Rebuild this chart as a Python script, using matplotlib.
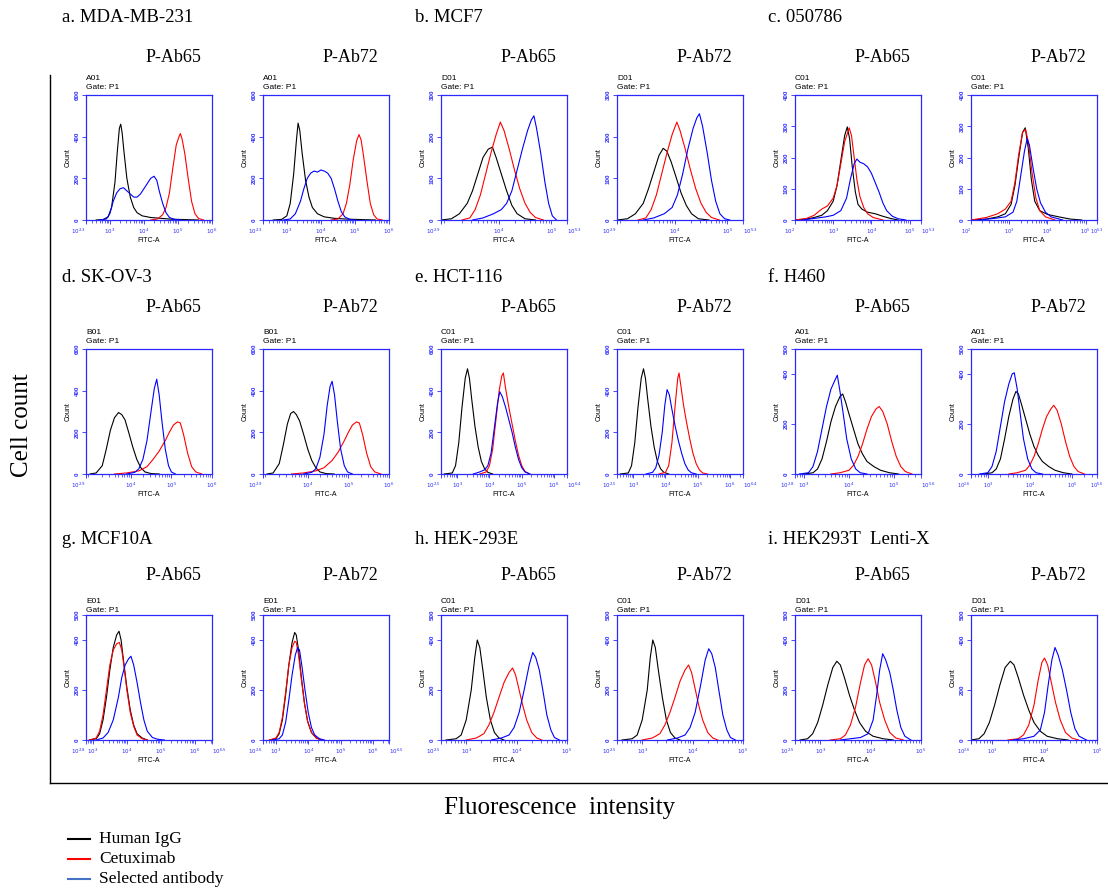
import matplotlib
matplotlib.use("Agg")
import matplotlib.pyplot as plt
from matplotlib.lines import Line2D
from matplotlib.ticker import LogLocator, NullFormatter, FixedLocator, FixedFormatter

# ---------------- data: (log10 FITC-A, count) ----------------
# a. MDA-MB-231
a65_igg = [(2.6,0),(2.8,2),(2.95,15),(3.05,60),(3.15,180),(3.22,330),(3.28,440),(3.32,460),(3.36,420),(3.42,320),(3.5,200),(3.6,110),(3.7,60),(3.8,35),(3.95,20),(4.2,12),(4.5,8),(4.8,4),(5.2,2),(5.6,0)]
a65_cet = [(4.2,0),(4.4,5),(4.55,25),(4.65,60),(4.75,130),(4.85,250),(4.95,360),(5.02,395),(5.07,415),(5.12,390),(5.2,320),(5.3,200),(5.4,90),(5.5,30),(5.6,8),(5.75,0)]
a65_sel = [(2.7,0),(2.9,5),(3.0,30),(3.1,90),(3.2,130),(3.3,150),(3.4,155),(3.5,140),(3.6,125),(3.7,110),(3.8,110),(3.9,125),(4.0,150),(4.1,175),(4.2,200),(4.3,210),(4.38,190),(4.45,140),(4.55,80),(4.65,35),(4.75,12),(4.9,3),(5.1,0)]
a72_igg = [(2.6,0),(2.85,3),(3.0,20),(3.1,80),(3.2,220),(3.28,380),(3.33,465),(3.38,430),(3.45,320),(3.55,190),(3.65,110),(3.75,60),(3.9,30),(4.1,15),(4.4,8),(4.8,4),(5.2,2),(5.6,0)]
a72_cet = [(4.3,0),(4.5,5),(4.65,30),(4.75,80),(4.85,170),(4.95,290),(5.05,380),(5.12,410),(5.18,385),(5.25,310),(5.35,190),(5.45,80),(5.55,25),(5.65,5),(5.8,0)]
a72_sel = [(2.9,0),(3.1,5),(3.25,30),(3.4,90),(3.5,150),(3.6,200),(3.7,225),(3.8,235),(3.9,230),(4.0,240),(4.1,235),(4.2,225),(4.3,200),(4.4,150),(4.5,90),(4.6,40),(4.7,15),(4.85,3),(5.0,0)]
# b. MCF7
b65_igg = [(2.9,0),(3.1,3),(3.25,15),(3.4,40),(3.5,70),(3.6,110),(3.7,150),(3.8,170),(3.88,175),(3.95,150),(4.05,110),(4.15,70),(4.25,35),(4.35,15),(4.5,3),(4.7,0)]
b65_cet = [(3.3,0),(3.45,5),(3.55,25),(3.65,60),(3.75,110),(3.85,160),(3.95,205),(4.03,235),(4.1,215),(4.2,170),(4.3,120),(4.4,75),(4.5,40),(4.6,18),(4.7,6),(4.85,0)]
b65_sel = [(3.5,0),(3.7,5),(3.9,15),(4.05,25),(4.15,40),(4.25,70),(4.35,120),(4.45,170),(4.55,215),(4.62,240),(4.67,250),(4.72,220),(4.8,160),(4.88,90),(4.95,40),(5.02,10),(5.1,0)]
b72_igg = [(2.9,0),(3.1,3),(3.25,15),(3.4,40),(3.5,75),(3.6,115),(3.7,155),(3.78,172),(3.85,165),(3.93,140),(4.02,105),(4.12,65),(4.22,35),(4.32,15),(4.45,3),(4.65,0)]
b72_cet = [(3.3,0),(3.45,5),(3.55,25),(3.65,60),(3.75,110),(3.85,160),(3.95,205),(4.04,235),(4.1,215),(4.2,170),(4.3,120),(4.4,75),(4.5,40),(4.6,18),(4.7,6),(4.85,0)]
b72_sel = [(3.4,0),(3.6,5),(3.8,15),(3.95,30),(4.05,60),(4.15,110),(4.25,170),(4.35,220),(4.42,245),(4.47,255),(4.53,225),(4.62,160),(4.7,95),(4.78,45),(4.86,15),(4.95,3),(5.05,0)]
# c. 050786
c65_igg = [(2.0,0),(2.3,3),(2.5,8),(2.7,15),(2.85,30),(3.0,60),(3.1,110),(3.2,190),(3.3,270),(3.37,298),(3.43,260),(3.5,170),(3.58,90),(3.65,50),(3.75,35),(3.9,25),(4.1,20),(4.3,12),(4.5,5),(4.7,0)]
c65_cet = [(2.0,0),(2.3,5),(2.5,15),(2.7,35),(2.85,45),(3.0,70),(3.1,110),(3.2,180),(3.3,250),(3.42,295),(3.48,270),(3.55,200),(3.62,130),(3.7,75),(3.8,40),(3.9,20),(4.05,8),(4.3,0)]
c65_sel = [(2.2,0),(2.5,5),(2.8,10),(3.0,15),(3.2,30),(3.35,70),(3.45,130),(3.55,180),(3.62,195),(3.7,185),(3.8,180),(3.9,170),(4.0,150),(4.1,120),(4.2,90),(4.3,55),(4.4,30),(4.55,12),(4.7,4),(4.9,0)]
c72_igg = [(2.0,0),(2.4,3),(2.7,10),(2.9,20),(3.05,50),(3.15,110),(3.25,200),(3.35,280),(3.42,295),(3.5,230),(3.58,130),(3.67,60),(3.8,30),(4.0,18),(4.3,10),(4.6,3),(4.9,0)]
c72_cet = [(2.0,0),(2.4,8),(2.7,20),(2.9,35),(3.05,60),(3.15,120),(3.25,210),(3.35,280),(3.43,290),(3.5,250),(3.6,150),(3.7,70),(3.8,30),(3.95,10),(4.2,0)]
c72_sel = [(2.2,0),(2.6,5),(2.9,10),(3.1,25),(3.2,60),(3.3,140),(3.4,220),(3.47,260),(3.53,240),(3.62,170),(3.72,100),(3.82,55),(3.95,25),(4.1,10),(4.4,0)]
# d. SK-OV-3
d65_igg = [(3.0,0),(3.15,5),(3.3,40),(3.4,120),(3.5,210),(3.6,270),(3.7,295),(3.78,285),(3.86,260),(3.95,200),(4.05,130),(4.15,70),(4.25,30),(4.35,10),(4.5,2),(4.7,0)]
d65_cet = [(3.6,0),(3.9,5),(4.2,15),(4.4,35),(4.55,70),(4.7,110),(4.85,160),(4.95,200),(5.05,235),(5.15,250),(5.22,245),(5.3,190),(5.4,100),(5.5,35),(5.6,10),(5.75,0)]
d65_sel = [(3.9,0),(4.1,8),(4.2,25),(4.3,70),(4.4,160),(4.5,300),(4.58,410),(4.64,455),(4.7,380),(4.77,250),(4.85,120),(4.93,40),(5.0,10),(5.1,0)]
d72_igg = [(3.0,0),(3.15,5),(3.3,50),(3.4,140),(3.5,240),(3.58,290),(3.65,300),(3.72,285),(3.8,255),(3.9,190),(4.0,120),(4.1,65),(4.2,30),(4.3,10),(4.45,2),(4.65,0)]
d72_cet = [(3.6,0),(3.9,5),(4.2,15),(4.4,30),(4.6,65),(4.75,105),(4.9,160),(5.0,200),(5.1,235),(5.2,250),(5.27,245),(5.35,190),(5.45,100),(5.55,35),(5.65,10),(5.8,0)]
d72_sel = [(3.9,0),(4.1,8),(4.2,25),(4.3,80),(4.4,190),(4.48,330),(4.55,420),(4.6,445),(4.66,380),(4.73,250),(4.81,120),(4.9,40),(4.98,10),(5.1,0)]
# e. HCT-116
e65_igg = [(2.6,0),(2.85,5),(2.95,40),(3.05,150),(3.15,320),(3.25,460),(3.32,505),(3.38,460),(3.45,360),(3.55,230),(3.65,130),(3.75,60),(3.85,25),(3.95,8),(4.1,0)]
e65_cet = [(3.7,0),(3.9,10),(4.0,40),(4.1,120),(4.2,260),(4.3,400),(4.38,470),(4.43,485),(4.5,410),(4.6,320),(4.7,240),(4.8,160),(4.9,90),(5.0,40),(5.1,12),(5.25,0)]
e65_sel = [(3.5,0),(3.7,10),(3.85,20),(3.95,40),(4.05,100),(4.15,220),(4.25,340),(4.32,395),(4.4,370),(4.5,320),(4.6,260),(4.7,200),(4.8,130),(4.9,70),(5.0,30),(5.1,10),(5.25,0)]
e72_igg = [(2.6,0),(2.85,5),(2.95,40),(3.05,150),(3.15,320),(3.25,460),(3.32,505),(3.38,460),(3.45,360),(3.55,230),(3.65,130),(3.75,60),(3.85,25),(3.95,8),(4.1,0)]
e72_cet = [(3.8,0),(4.0,8),(4.1,40),(4.2,150),(4.3,330),(4.38,460),(4.42,485),(4.48,420),(4.56,330),(4.65,250),(4.75,170),(4.85,100),(4.95,50),(5.05,20),(5.15,5),(5.3,0)]
e72_sel = [(3.4,0),(3.6,8),(3.7,30),(3.8,90),(3.9,200),(3.98,330),(4.05,405),(4.12,380),(4.2,310),(4.3,230),(4.4,160),(4.5,100),(4.6,50),(4.7,20),(4.8,6),(4.95,0)]
# f. H460
f65_igg = [(3.0,0),(3.2,5),(3.3,20),(3.4,60),(3.5,130),(3.6,210),(3.7,270),(3.8,310),(3.86,320),(3.92,290),(4.0,240),(4.1,180),(4.2,120),(4.3,80),(4.4,50),(4.55,30),(4.7,15),(4.9,5),(5.1,0)]
f65_cet = [(3.6,0),(3.8,5),(4.0,15),(4.1,35),(4.2,70),(4.3,120),(4.4,180),(4.5,230),(4.6,260),(4.67,270),(4.75,250),(4.85,200),(4.95,130),(5.05,70),(5.15,30),(5.25,10),(5.4,0)]
f65_sel = [(2.9,0),(3.1,5),(3.2,30),(3.3,90),(3.4,180),(3.5,270),(3.6,340),(3.7,380),(3.74,395),(3.8,330),(3.88,230),(3.95,140),(4.05,60),(4.15,20),(4.25,5),(4.4,0)]
f72_igg = [(2.9,0),(3.1,5),(3.2,20),(3.3,60),(3.4,140),(3.5,230),(3.6,300),(3.67,330),(3.73,320),(3.8,280),(3.9,220),(4.0,160),(4.1,110),(4.2,75),(4.3,50),(4.45,30),(4.6,15),(4.8,5),(5.0,0)]
f72_cet = [(3.5,0),(3.7,5),(3.9,15),(4.0,35),(4.1,70),(4.2,120),(4.3,180),(4.4,230),(4.5,260),(4.57,275),(4.65,255),(4.75,200),(4.85,130),(4.95,70),(5.05,30),(5.15,10),(5.3,0)]
f72_sel = [(2.8,0),(3.0,5),(3.1,30),(3.2,90),(3.3,190),(3.4,290),(3.5,360),(3.58,400),(3.63,405),(3.7,340),(3.78,230),(3.85,140),(3.95,60),(4.05,20),(4.15,5),(4.3,0)]
# g. MCF10A
g65_igg = [(2.9,0),(3.1,5),(3.2,25),(3.3,80),(3.4,170),(3.5,280),(3.6,370),(3.7,420),(3.77,435),(3.83,400),(3.9,320),(4.0,210),(4.1,120),(4.2,60),(4.3,25),(4.45,8),(4.6,0)]
g65_cet = [(2.9,0),(3.1,8),(3.2,35),(3.3,100),(3.4,200),(3.5,300),(3.6,360),(3.7,385),(3.78,390),(3.85,360),(3.92,290),(4.0,200),(4.1,110),(4.2,55),(4.3,20),(4.45,5),(4.6,0)]
g65_sel = [(3.1,0),(3.3,8),(3.45,30),(3.6,80),(3.75,170),(3.85,250),(3.95,300),(4.05,325),(4.12,335),(4.2,300),(4.3,230),(4.4,150),(4.5,80),(4.6,35),(4.75,10),(4.9,3),(5.1,0)]
g72_igg = [(2.8,0),(3.0,5),(3.1,25),(3.2,80),(3.3,180),(3.4,300),(3.5,390),(3.58,430),(3.63,420),(3.7,360),(3.78,260),(3.88,150),(3.98,75),(4.1,30),(4.25,8),(4.4,0)]
g72_cet = [(2.8,0),(3.0,8),(3.1,30),(3.2,90),(3.3,190),(3.4,300),(3.5,370),(3.58,395),(3.63,390),(3.7,340),(3.78,250),(3.88,150),(3.98,75),(4.1,30),(4.25,8),(4.4,0)]
g72_sel = [(2.9,0),(3.1,5),(3.2,20),(3.3,70),(3.4,160),(3.5,260),(3.6,340),(3.67,370),(3.73,360),(3.8,300),(3.9,200),(4.0,110),(4.1,50),(4.2,20),(4.35,5),(4.5,0)]
# h. HEK-293E
h65_igg = [(2.6,0),(2.8,5),(2.9,20),(3.0,80),(3.1,200),(3.17,330),(3.22,400),(3.27,370),(3.33,280),(3.4,170),(3.48,80),(3.56,30),(3.65,8),(3.75,0)]
h65_cet = [(3.0,0),(3.2,8),(3.35,25),(3.45,60),(3.55,110),(3.65,170),(3.75,230),(3.85,270),(3.92,288),(3.98,260),(4.05,200),(4.12,140),(4.2,80),(4.3,30),(4.4,8),(4.5,0)]
h65_sel = [(3.5,0),(3.7,8),(3.85,20),(3.95,50),(4.05,110),(4.15,200),(4.25,300),(4.32,350),(4.38,330),(4.45,280),(4.52,200),(4.6,100),(4.68,40),(4.75,10),(4.85,0)]
h72_igg = [(2.6,0),(2.8,5),(2.9,20),(3.0,80),(3.1,200),(3.16,330),(3.21,400),(3.26,370),(3.32,280),(3.4,170),(3.48,80),(3.56,30),(3.65,8),(3.75,0)]
h72_cet = [(3.0,0),(3.2,8),(3.35,25),(3.45,60),(3.55,110),(3.65,170),(3.75,235),(3.85,280),(3.92,300),(3.98,270),(4.05,205),(4.12,140),(4.2,80),(4.3,30),(4.4,8),(4.5,0)]
h72_sel = [(3.5,0),(3.7,8),(3.85,20),(3.95,50),(4.05,110),(4.15,210),(4.25,320),(4.32,365),(4.38,345),(4.45,290),(4.52,200),(4.6,100),(4.68,40),(4.75,10),(4.85,0)]
# i. HEK293T Lenti-X
i65_igg = [(2.6,0),(2.75,5),(2.85,25),(2.95,70),(3.05,140),(3.15,220),(3.25,290),(3.33,315),(3.4,300),(3.48,250),(3.58,180),(3.68,120),(3.78,70),(3.9,35),(4.05,15),(4.25,5),(4.45,0)]
i65_cet = [(3.2,0),(3.4,5),(3.5,20),(3.6,60),(3.7,130),(3.8,230),(3.88,300),(3.95,325),(4.02,300),(4.1,230),(4.18,150),(4.28,80),(4.38,30),(4.5,8),(4.65,0)]
i65_sel = [(3.4,0),(3.6,5),(3.8,10),(3.95,25),(4.05,80),(4.12,180),(4.18,280),(4.24,345),(4.3,320),(4.38,270),(4.45,200),(4.52,120),(4.6,50),(4.68,15),(4.8,0)]
i72_igg = [(2.6,0),(2.75,5),(2.85,25),(2.95,70),(3.05,140),(3.15,220),(3.25,290),(3.35,315),(3.42,300),(3.5,250),(3.6,180),(3.7,120),(3.8,70),(3.92,35),(4.05,15),(4.25,5),(4.45,0)]
i72_cet = [(3.3,0),(3.5,5),(3.6,20),(3.7,60),(3.8,140),(3.88,240),(3.95,310),(4.0,328),(4.06,300),(4.13,230),(4.21,150),(4.3,80),(4.4,30),(4.52,8),(4.65,0)]
i72_sel = [(3.4,0),(3.6,5),(3.8,15),(3.92,40),(4.0,110),(4.07,220),(4.14,320),(4.2,370),(4.26,340),(4.34,280),(4.42,200),(4.5,110),(4.58,45),(4.66,15),(4.8,0)]

# panel settings
wells = ["A01","A01","D01","D01","C01","C01",
         "B01","B01","C01","C01","A01","A01",
         "E01","E01","C01","C01","D01","D01"]
x_low = [2.3,2.3,2.9,2.9,2.0,2.0,
         2.9,2.9,2.5,2.5,2.8,2.6,
         2.8,2.6,2.5,2.5,2.5,2.6]
x_high = [6.0,6.0,5.3,5.3,5.3,5.3,
          6.0,6.0,6.4,6.4,5.6,5.6,
          6.5,6.5,5.0,5.0,5.0,5.0]
y_max = [600,600,300,300,400,400,
         600,600,600,600,500,500,
         500,500,500,500,500,500]
panel_titles = ["a. MDA-MB-231","b. MCF7","c. 050786",
                "d. SK-OV-3","e. HCT-116","f. H460",
                "g. MCF10A","h. HEK-293E","i. HEK293T  Lenti-X"]
antibodies = ["P-Ab65","P-Ab72"]
legend_labels = ["Human IgG","Cetuximab","Selected antibody"]

curves = [
    (a65_igg,a65_cet,a65_sel),(a72_igg,a72_cet,a72_sel),
    (b65_igg,b65_cet,b65_sel),(b72_igg,b72_cet,b72_sel),
    (c65_igg,c65_cet,c65_sel),(c72_igg,c72_cet,c72_sel),
    (d65_igg,d65_cet,d65_sel),(d72_igg,d72_cet,d72_sel),
    (e65_igg,e65_cet,e65_sel),(e72_igg,e72_cet,e72_sel),
    (f65_igg,f65_cet,f65_sel),(f72_igg,f72_cet,f72_sel),
    (g65_igg,g65_cet,g65_sel),(g72_igg,g72_cet,g72_sel),
    (h65_igg,h65_cet,h65_sel),(h72_igg,h72_cet,h72_sel),
    (i65_igg,i65_cet,i65_sel),(i72_igg,i72_cet,i72_sel),
]

# ---------------- layout ----------------
W, H = 1108, 891
fig = plt.figure(figsize=(W/100, H/100), dpi=100)
SERIF = ["Liberation Serif", "DejaVu Serif"]
SANS = ["Liberation Sans", "DejaVu Sans"]
BLUE = "#2a2aff"
curve_colors = ["#000000", "#ff0000", "#0000ff"]

col_left = [86, 263, 441, 617, 795, 971]
row_top = [95, 349, 615]
aw, ah = 126, 125
title_y = [17, 277, 540]
sub_y = [57, 307, 576]
title_x = [62, 415, 768]

def fx(px): return px / W
def fy(py): return 1 - py / H

def fmt(v):
    return r"$10^{%s}$" % ("%g" % v)

for k in range(18):
    r, c = divmod(k, 6)
    l, t = col_left[c], row_top[r]
    ax = fig.add_axes([fx(l), fy(t + ah), aw / W, ah / H])
    for data, colr in zip(curves[k], curve_colors):
        xs = [10 ** p[0] for p in data]
        ys = [p[1] for p in data]
        ax.plot(xs, ys, color=colr, lw=0.8)
    lo, hi, ym = x_low[k], x_high[k], y_max[k]
    ax.set_xscale("log")
    ax.set_xlim(10 ** lo, 10 ** hi)
    ax.set_ylim(0, ym)
    majors = [lo] + [d for d in range(int(lo) + 1, int(hi) + 1) if d > lo + 0.15 and d <= hi]
    if hi not in majors:
        majors.append(hi)
    ax.xaxis.set_major_locator(FixedLocator([10 ** m for m in majors]))
    ax.xaxis.set_major_formatter(FixedFormatter([fmt(m) for m in majors]))
    ax.xaxis.set_minor_locator(LogLocator(base=10, subs=range(2, 10), numticks=20))
    ax.xaxis.set_minor_formatter(NullFormatter())
    step = 100 if ym <= 400 else 200
    yt = list(range(0, ym + 1, step))
    if yt[-1] != ym:
        yt.append(ym)
    ax.set_yticks(yt)
    ax.set_yticklabels([str(v) for v in yt], rotation=90, va="center",
                       fontsize=4.5, color=BLUE, fontweight="bold", family=SANS)
    xlabs = ax.get_xticklabels()
    for lab in xlabs:
        lab.set_fontsize(4.0 if c < 5 else 3.6)
        lab.set_color(BLUE)
    xlabs[0].set_horizontalalignment("right")
    if hi != int(hi) and c < 5:
        xlabs[-1].set_horizontalalignment("left")
    ax.tick_params(which="major", color=BLUE, length=3, width=0.6, pad=1.5)
    ax.tick_params(which="minor", axis="x", color=BLUE, length=2, width=0.5)
    for sp in ax.spines.values():
        sp.set_color(BLUE)
        sp.set_linewidth(0.9)
    ax.set_xlabel("FITC-A", fontsize=5, family=SANS, labelpad=1)
    ax.set_ylabel("Count", fontsize=5, family=SANS, labelpad=2)
    g1 = 1.13 if r < 2 else 1.11
    g2 = 1.06 if r < 2 else 1.04
    ax.text(0.0, g1, wells[k], transform=ax.transAxes, fontsize=6, family=SANS, va="center")
    ax.text(0.0, g2, "Gate: P1", transform=ax.transAxes, fontsize=6, family=SANS, va="center")
    fig.text(fx(l + aw / 2 + 24), fy(sub_y[r]), antibodies[c % 2],
             ha="center", va="center", fontsize=13, family=SERIF)

for n, ttl in enumerate(panel_titles):
    r, c = divmod(n, 3)
    fig.text(fx(title_x[c]), fy(title_y[r]), ttl, ha="left", va="center",
             fontsize=13.5, family=SERIF)

# big L-shaped frame
fig.add_artist(Line2D([fx(50), fx(50)], [fy(75), fy(783)], color="black", lw=1))
fig.add_artist(Line2D([fx(50), fx(1108)], [fy(783), fy(783)], color="black", lw=1))
fig.text(fx(22), fy(425), "Cell count", rotation=90, ha="center", va="center",
         fontsize=18, family=SERIF)
fig.text(fx(560), fy(808), "Fluorescence  intensity", ha="center", va="center",
         fontsize=18, family=SERIF)

# legend
leg_colors = ["#000000", "#ff0000", "#4472c4"]
for j, (lab, colr) in enumerate(zip(legend_labels, leg_colors)):
    yy = 839 + j * 20
    fig.add_artist(Line2D([fx(68), fx(90)], [fy(yy), fy(yy)], color=colr, lw=1.5))
    fig.text(fx(99), fy(yy), lab, ha="left", va="center", fontsize=12.5, family=SERIF)

fig.savefig("out.png", dpi=100)
